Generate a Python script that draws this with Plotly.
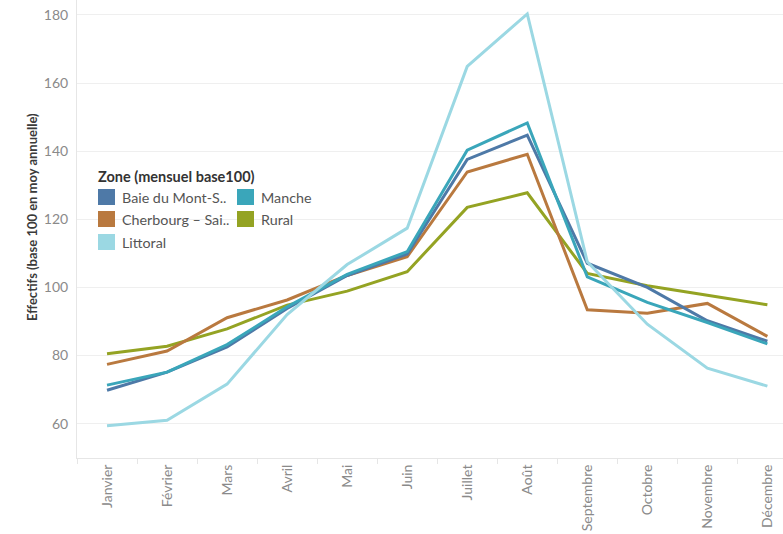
import plotly.graph_objects as go

months = ["Janvier", "Février", "Mars", "Avril", "Mai", "Juin", "Juillet",
          "Août", "Septembre", "Octobre", "Novembre", "Décembre"]

baie = [69.8, 75.1, 82.5, 93.8, 103.5, 109.8, 137.6, 144.7, 107.1, 100.0, 90.2, 84.2]
manche = [71.3, 75.1, 83.2, 94.3, 103.8, 110.5, 140.3, 148.3, 103.1, 95.6, 89.7, 83.4]
cherbourg = [77.4, 81.3, 91.1, 96.3, 103.5, 109.0, 133.9, 139.1, 93.4, 92.4, 95.3, 85.6]
rural = [80.5, 82.7, 87.8, 94.8, 98.9, 104.6, 123.5, 127.8, 104.1, 100.5, 97.7, 94.9]
littoral = [59.4, 61.0, 71.6, 92.0, 106.7, 117.4, 164.9, 180.3, 107.5, 89.2, 76.3, 71.0]

names = ["Baie du Mont-S..", "Manche", "Cherbourg – Sai..", "Rural", "Littoral"]
series = [baie, manche, cherbourg, rural, littoral]
colors = ["#4e79a7", "#3aa6ba", "#b9793f", "#94a323", "#9bd8e3"]

FONT = "Lato"
fig = go.Figure()
draw_order = [3, 2, 0, 1, 4]
for i in draw_order:
    fig.add_trace(go.Scatter(x=months, y=series[i], mode="lines", name=names[i],
                             line=dict(color=colors[i], width=3),
                             showlegend=False))

# plot area in pixels
L, T, W, H = 77, 0, 706, 458
def px(x):
    return (x - L) / W
def py(y):
    return 1 - (y - T) / H

fig.add_annotation(x=px(32), y=py(217), xref="paper", yref="paper",
                   text="<b>Effectifs (base 100 en moy annuelle)</b>", textangle=-90,
                   showarrow=False, xanchor="center", yanchor="middle",
                   font=dict(family=FONT, size=13, color="#3a3a3a"))

fig.add_annotation(x=px(96), y=py(176), xref="paper", yref="paper",
                   text="<b>Zone (mensuel base100)</b>", showarrow=False,
                   xanchor="left", yanchor="middle",
                   font=dict(family=FONT, size=14.5, color="#333333"))
pos = [(98, 197), (237, 197), (98, 219), (237, 219), (98, 242)]
for (x0, yc), name, c in zip(pos, names, colors):
    fig.add_shape(type="rect", xref="paper", yref="paper",
                  x0=px(x0), x1=px(x0 + 17), y0=py(yc - 8), y1=py(yc + 8),
                  fillcolor=c, line=dict(width=0))
    fig.add_annotation(x=px(x0 + 22), y=py(yc), xref="paper", yref="paper",
                       text=name, showarrow=False, xanchor="left", yanchor="middle",
                       font=dict(family=FONT, size=14.3, color="#555555"))

fig.update_layout(
    width=783, height=534,
    margin=dict(l=L, r=0, t=T, b=534 - H - T),
    plot_bgcolor="white", paper_bgcolor="white",
    font=dict(family=FONT, color="#888888"),
)
fig.update_xaxes(
    type="category", range=[-0.5, 11.26], tickangle=-90, automargin=False,
    tickfont=dict(family=FONT, size=14, color="#8a8a8a"),
    showgrid=False, showline=True, linecolor="#e6e6e6", linewidth=1,
    ticks="outside", tickson="boundaries", ticklen=5, tickcolor="#e6e6e6",
)
fig.update_yaxes(
    range=[49.9, 184.4], tickvals=[60, 80, 100, 120, 140, 160, 180],
    automargin=False,
    tickfont=dict(family=FONT, size=14, color="#8a8a8a"),
    showgrid=True, gridcolor="#efefef", gridwidth=1, zeroline=False,
    showline=True, linecolor="#e6e6e6", linewidth=1,
    ticks="", ticklabelstandoff=5,
)

fig.write_html("out.html", config={"displayModeBar": False},
               post_script="document.body.style.margin='0';document.body.style.overflow='hidden';")
